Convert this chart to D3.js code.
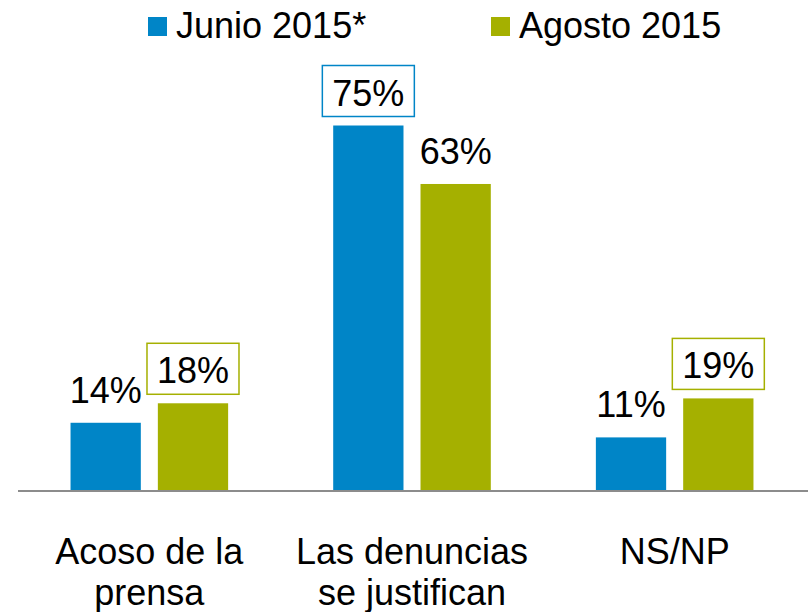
<!DOCTYPE html>
<html>
<head>
<meta charset="utf-8">
<script src="https://cdn.jsdelivr.net/npm/d3@7"></script>
<style>
  body { margin: 0; background: #fff; }
  text { font-family: "Liberation Sans", Arial, sans-serif; fill: #000; }
</style>
</head>
<body>
<div id="chart"></div>
<script>
// Data
var categories = [["Acoso de la", "prensa"], ["Las denuncias", "se justifican"], ["NS/NP"]];
var series     = ["Junio 2015*", "Agosto 2015"];
var junio      = [14, 75, 11];
var agosto     = [18, 63, 19];
// which labels sit inside a box
var boxedJunio  = [false, true, false];
var boxedAgosto = [true, false, true];

var colors = ["#0085c7", "#a5b000"];

var chart_width  = 808;
var chart_height = 612;
var baseline     = 491;

var svg = d3.select("#chart")
    .append("svg")
    .attr("width", chart_width)
    .attr("height", chart_height);

var x0 = d3.scaleBand()
    .domain(d3.range(categories.length))
    .range([18, 806])
    .paddingInner(0.4)
    .paddingOuter(0.2);

var x1 = d3.scaleBand()
    .domain(d3.range(series.length))
    .range([0, x0.bandwidth()])
    .paddingInner(0.195);

var y = d3.scaleLinear()
    .domain([0, 75])
    .range([baseline, 125.5]);

var rows = [];
categories.forEach(function(c, i){
    rows.push({cat: i, s: 0, v: junio[i], boxed: boxedJunio[i]});
    rows.push({cat: i, s: 1, v: agosto[i], boxed: boxedAgosto[i]});
});

// bars
svg.selectAll("rect.bar")
    .data(rows)
    .enter()
    .append("rect")
    .attr("class", "bar")
    .attr("x", function(d){ return x0(d.cat) + x1(d.s); })
    .attr("y", function(d){ return y(d.v); })
    .attr("width", x1.bandwidth())
    .attr("height", function(d){ return baseline - y(d.v); })
    .attr("fill", function(d){ return colors[d.s]; });

// axis line
svg.append("line")
    .attr("x1", 18).attr("x2", 808)
    .attr("y1", baseline).attr("y2", baseline)
    .attr("stroke", "#8c8c8c")
    .attr("stroke-width", 2);

// value labels
var labels = svg.selectAll("g.lbl")
    .data(rows)
    .enter()
    .append("g")
    .attr("class", "lbl")
    .attr("transform", function(d){
        return "translate(" + (x0(d.cat) + x1(d.s) + x1.bandwidth() / 2) + "," + (y(d.v) - 20) + ")";
    });

labels.filter(function(d){ return d.boxed; })
    .append("rect")
    .attr("x", -46)
    .attr("y", -40)
    .attr("width", 92)
    .attr("height", 51)
    .attr("fill", "#fff")
    .attr("stroke", function(d){ return colors[d.s]; })
    .attr("stroke-width", 1.5);

labels.append("text")
    .attr("text-anchor", "middle")
    .style("font-size", "36px")
    .text(function(d){ return d.v + "%"; });

// category labels
var cats = svg.selectAll("text.cat")
    .data(categories)
    .enter()
    .append("text")
    .attr("class", "cat")
    .attr("text-anchor", "middle")
    .attr("x", function(d, i){ return x0(i) + x0.bandwidth() / 2; })
    .attr("y", 564)
    .style("font-size", "36px");

cats.selectAll("tspan")
    .data(function(d){ return d; })
    .enter()
    .append("tspan")
    .attr("x", function(){ return d3.select(this.parentNode).attr("x"); })
    .attr("dy", function(d, i){ return i === 0 ? 0 : 41; })
    .text(function(d){ return d; });

// legend
var legendX = [148, 491];
var legend = svg.selectAll("g.legend")
    .data(series)
    .enter()
    .append("g")
    .attr("class", "legend")
    .attr("transform", function(d, i){ return "translate(" + legendX[i] + ",0)"; });

legend.append("rect")
    .attr("x", 0).attr("y", 17)
    .attr("width", 19).attr("height", 19)
    .attr("fill", function(d, i){ return colors[i]; });

legend.append("text")
    .attr("x", 28)
    .attr("y", 38)
    .style("font-size", "36px")
    .text(function(d){ return d; });
</script>
</body>
</html>
